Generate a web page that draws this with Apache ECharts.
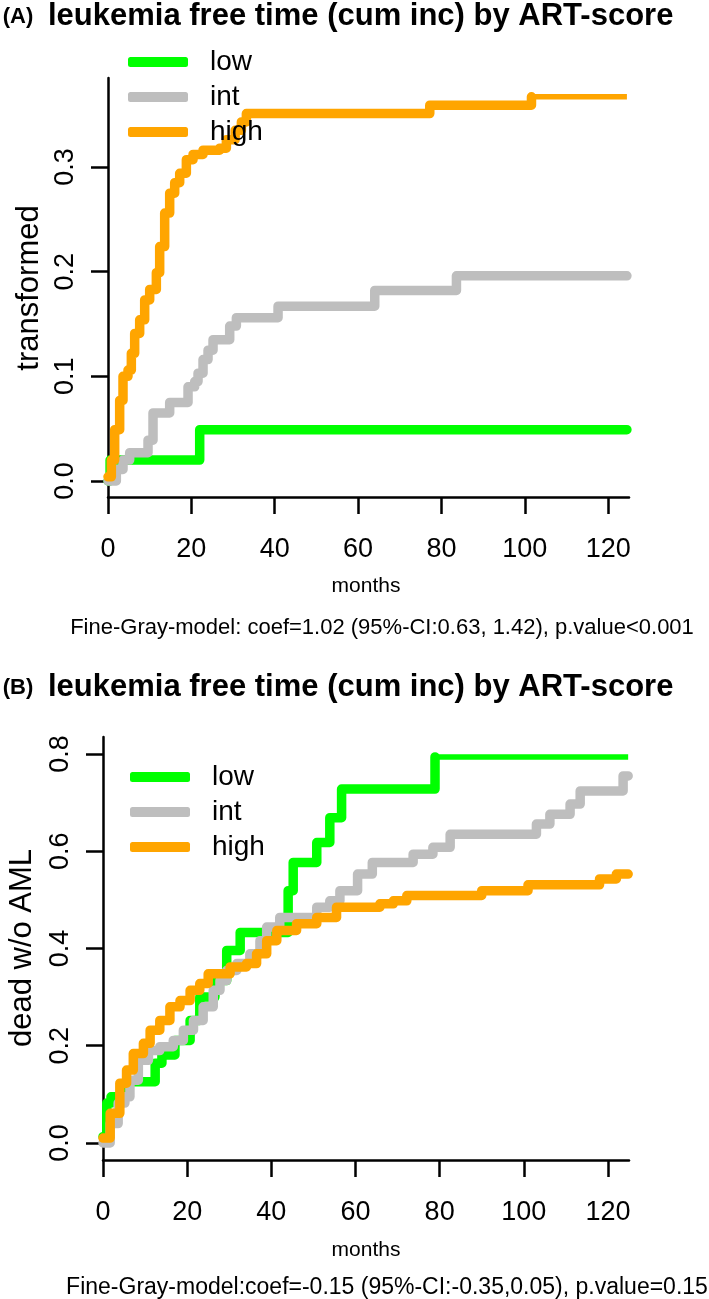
<!DOCTYPE html>
<html><head><meta charset="utf-8">
<script src="https://cdn.jsdelivr.net/npm/echarts@6/dist/echarts.min.js"></script>
<style>html,body{margin:0;padding:0;background:#fff}#c{width:709px;height:1299px}</style>
</head><body><div id="c"></div>
<script>
// ---- data ----
const seriesNames = ['low', 'int', 'high'];
const seriesColors = ['#00FF00', '#BEBEBE', '#FFA500'];
const xTicks = [0, 20, 40, 60, 80, 100, 120];
const yTicksA = [0, 0.1, 0.2, 0.3];
const yTicksB = [0, 0.2, 0.4, 0.6, 0.8];

// Panel A: [months, cumulative incidence of transformation]
const lowA = [[0,0],[0.5,0.02],[22,0.049],[124.5,0.049]];
const intA = [[0,0],[2,0.011],[3.6,0.02],[5.2,0.027],[9.6,0.039],[10.8,0.065],[14.8,0.075],[19.2,0.09],[20.8,0.095],[21.6,0.103],[22.8,0.116],[24,0.125],[25.2,0.135],[29.2,0.148],[30.8,0.156],[40.8,0.167],[64,0.182],[83.6,0.196],[124.5,0.196]];
const highA = [[0,0.004],[0.8,0.02],[1.6,0.049],[2.8,0.077],[3.6,0.1],[4.8,0.106],[5.6,0.122],[6.4,0.141],[7.6,0.154],[8.8,0.173],[10,0.183],[11.6,0.199],[12.4,0.224],[13.6,0.256],[14.8,0.275],[16,0.285],[17.2,0.294],[18.8,0.307],[20.4,0.312],[22.8,0.316],[26.8,0.318],[28.4,0.326],[30.5,0.335],[32,0.343],[33.2,0.351],[77.2,0.359],[101.6,0.367],[124.5,0.367]];

// Panel B: [months, cumulative incidence of death w/o AML]
const lowB = [[0,0.013],[0.9,0.082],[1.9,0.095],[5.6,0.126],[12.4,0.164],[14,0.181],[17.1,0.211],[20.7,0.252],[23,0.3],[26.6,0.334],[29.4,0.396],[32.6,0.433],[44,0.519],[45.2,0.577],[50.8,0.618],[53.9,0.669],[56.7,0.728],[78.9,0.794],[124.8,0.794]];
const intB = [[0,0],[1.7,0.04],[3.6,0.082],[5.2,0.095],[6.4,0.129],[8.4,0.17],[10.8,0.19],[13.5,0.198],[16.7,0.211],[19.1,0.232],[21.5,0.252],[23.8,0.28],[26.2,0.314],[27.8,0.334],[29.4,0.355],[31.8,0.369],[34.9,0.389],[37.3,0.416],[38.9,0.444],[42,0.464],[50.8,0.485],[53.9,0.498],[56.3,0.519],[60.5,0.553],[64,0.577],[73.7,0.594],[78.4,0.608],[82.5,0.635],[103,0.656],[106.2,0.676],[111,0.697],[113.4,0.724],[123.6,0.755],[124.8,0.755]];
const highB = [[0,0.01],[1.7,0.061],[4,0.123],[5.6,0.15],[7.2,0.184],[9.6,0.205],[11.2,0.232],[13.5,0.252],[15.9,0.28],[18.3,0.293],[20.7,0.314],[23,0.328],[25,0.348],[30.2,0.362],[34.1,0.369],[36.5,0.389],[38.9,0.416],[41.3,0.437],[46,0.451],[50.8,0.464],[55.5,0.485],[65.8,0.492],[69,0.498],[72.2,0.509],[90,0.519],[101,0.531],[118,0.543],[122,0.553],[124.8,0.553]];

const titleText = 'leukemia free time (cum inc) by ART-score';
const yNameA = 'transformed';
const yNameB = 'dead w/o AML';
const xName = 'months';
const noteA = 'Fine-Gray-model: coef=1.02 (95%-CI:0.63, 1.42), p.value<0.001';
const noteB = 'Fine-Gray-model:coef=-0.15 (95%-CI:-0.35,0.05), p.value=0.15';

// ---- chart ----
const FONT = 'Liberation Sans, Arial, sans-serif';
const LINE_W = 9.5;
// curves whose final plateau is drawn thinner in the original picture: [panel, seriesIndex]
const thinTails = [[0, 2], [1, 0]];
const chart = echarts.init(document.getElementById('c'), null, {renderer: 'canvas'});

function xAxisCfg(gi) {
  return {
    gridIndex: gi, type: 'value', min: 0, max: 125,
    axisLine: {onZero: false, lineStyle: {color: '#000', width: 2.5}},
    axisTick: {customValues: xTicks, length: 17, lineStyle: {color: '#000', width: 2.5}},
    axisLabel: {customValues: xTicks, margin: 39, fontSize: 27, color: '#000', fontFamily: FONT},
    splitLine: {show: false}
  };
}
function yAxisCfg(gi, min, max, ticks) {
  return {
    gridIndex: gi, type: 'value', min: min, max: max,
    axisLine: {show: true, onZero: false, lineStyle: {color: '#000', width: 2.5}},
    axisTick: {show: true, customValues: ticks, length: 17, lineStyle: {color: '#000', width: 2.5}},
    axisLabel: {customValues: ticks, rotate: 90, align: 'center', verticalAlign: 'middle', margin: 42,
      fontSize: 27, color: '#000', fontFamily: FONT, formatter: v => v.toFixed(1)},
    splitLine: {show: false}
  };
}
function lineSeries(name, color, data, gi, width) {
  return {
    name: name, type: 'line', xAxisIndex: gi, yAxisIndex: gi, data: data,
    step: 'end', showSymbol: false, symbol: 'none', color: color,
    itemStyle: {color: color},
    lineStyle: {color: color, width: width, cap: 'round', join: 'round'},
    z: 3
  };
}
const panels = [[lowA, intA, highA], [lowB, intB, highB]];
const series = [];
panels.forEach((arrs, gi) => {
  seriesNames.forEach((n, i) => {
    const thin = thinTails.some(t => t[0] === gi && t[1] === i);
    if (thin) {
      series.push(lineSeries(n, seriesColors[i], arrs[i].slice(0, -1), gi, LINE_W));
      const tail = lineSeries(n + ' ', seriesColors[i], arrs[i].slice(-2), gi, 5.5);
      tail.lineStyle.cap = 'butt';
      series.push(tail);
    } else {
      series.push(lineSeries(n, seriesColors[i], arrs[i], gi, LINE_W));
    }
  });
});

function legendCfg(left, top) {
  return {
    data: seriesNames, orient: 'vertical', left: left, top: top,
    icon: 'roundRect', itemWidth: 60, itemHeight: 10, itemGap: 5,
    selectedMode: false,
    textStyle: {fontSize: 28, lineHeight: 30, color: '#000', fontFamily: FONT, padding: [0, 0, 0, 17]}
  };
}
function txt(text, x, y, size, opts) {
  opts = opts || {};
  return {
    type: 'text', x: x, y: y, rotation: opts.rot || 0, silent: true,
    style: {text: text, x: 0, y: 0, fill: '#000', fontSize: size, fontWeight: opts.bold ? 'bold' : 'normal',
      fontFamily: opts.family || FONT, align: opts.align || 'center', verticalAlign: 'middle'}
  };
}

chart.setOption({
  animation: false,
  backgroundColor: '#fff',
  grid: [
    {left: 108, top: 78, width: 521, height: 419},
    {left: 103, top: 737, width: 526, height: 423}
  ],
  xAxis: [xAxisCfg(0), xAxisCfg(1)],
  yAxis: [yAxisCfg(0, -0.0153, 0.385, yTicksA), yAxisCfg(1, -0.035, 0.835, yTicksB)],
  legend: [legendCfg(123, 42), legendCfg(125, 757)],
  series: series,
  graphic: [
    txt('(A)', 18, 17, 22, {bold: true}),
    txt(titleText, 48, 16, 31, {bold: true, align: 'left'}),
    txt('(B)', 18, 688, 22, {bold: true}),
    txt(titleText, 48, 687, 31, {bold: true, align: 'left'}),
    txt(yNameA, 29, 288, 31, {rot: Math.PI / 2}),
    txt(yNameB, 22, 948, 31, {rot: Math.PI / 2}),
    txt(xName, 366, 586, 21),
    txt(xName, 366, 1250, 21),
    txt(noteA, 382, 628, 22),
    txt(noteB, 387, 1288, 23)
  ]
});
</script></body></html>
